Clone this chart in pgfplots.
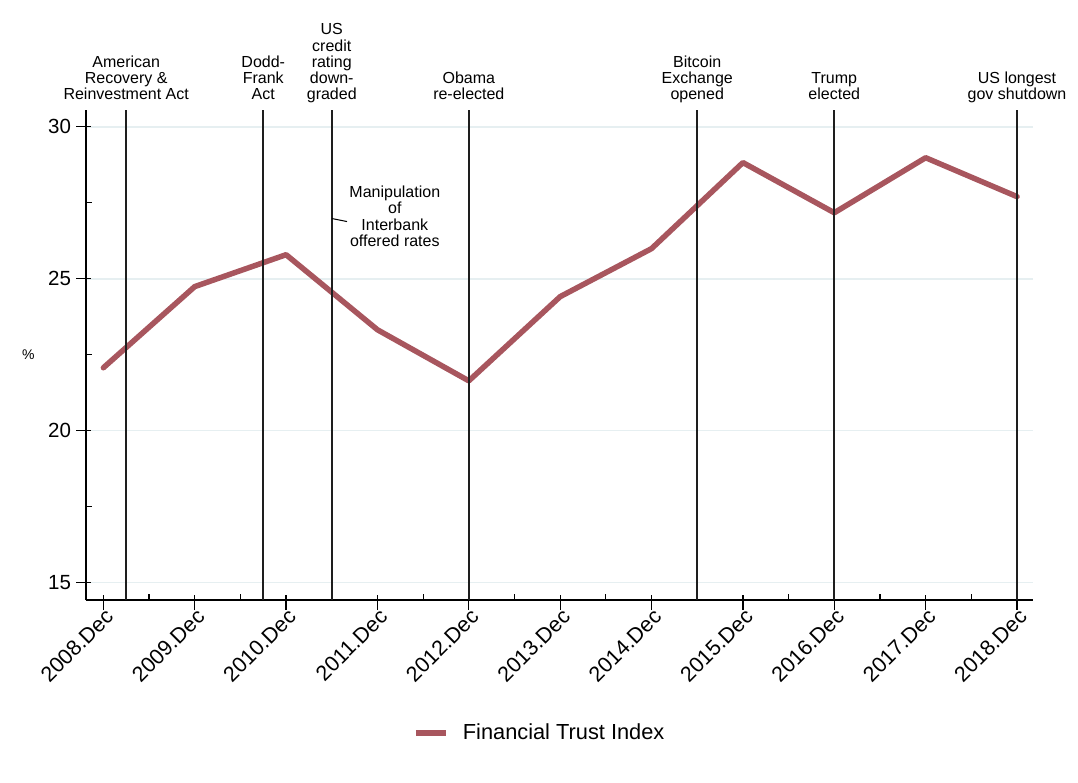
\documentclass[border=0pt]{standalone}
\usepackage{fontspec}
\setmainfont{Liberation Sans}
\usepackage{pgfplots}
\pgfplotsset{compat=1.18}
\definecolor{trust}{RGB}{168,86,94}
\definecolor{gridc}{RGB}{230,239,241}
\definecolor{evc}{RGB}{30,30,30}
\pgfplotstableread{
x y
0 22.07
1 24.74
2 25.79
3 23.32
4 21.64
5 24.41
6 25.99
7 28.82
8 27.17
9 28.98
10 27.70
}\trustdata
\usepackage{pgfplotstable}
\begin{document}
\begin{tikzpicture}
\useasboundingbox (0,0) rectangle (1078pt,782pt);
\begin{axis}[
  at={(86pt,182pt)}, anchor=south west,
  scale only axis, width=947pt, height=490pt,
  xmin=-0.19, xmax=10.175, ymin=14.43, ymax=30.55,
  axis x line=bottom, axis y line=left,
  axis line style={-, line width=1.2pt, black},
  xtick={0,...,10},
  xticklabels={2008.Dec,2009.Dec,2010.Dec,2011.Dec,2012.Dec,2013.Dec,2014.Dec,2015.Dec,2016.Dec,2017.Dec,2018.Dec},
  ytick={15,20,25,30},
  minor x tick num=1, minor y tick num=1,
  ymajorgrids, major grid style={gridc, line width=1.6pt},
  tick align=center, major tick length=15pt, minor tick length=6pt,
  every tick/.style={black, line width=1.2pt},
  every major x tick/.append style={yshift=-2.5pt},
  every major y tick/.append style={xshift=-2.5pt},
  every minor x tick/.append style={yshift=3pt},
  every minor y tick/.append style={xshift=3pt},
  tick label style={font=\fontsize{20.5}{24}\selectfont},
  /pgf/number format/assume math mode=true,
  xticklabel style={rotate=45, anchor=east, font=\fontsize{21.5}{24}\selectfont, xshift=4pt, yshift=-8pt},
  yticklabel style={xshift=-4pt},
  ylabel={\%},
  every axis y label/.style={at={(axis description cs:-0.061,0.5)}, anchor=center, font=\fontsize{14}{16}\selectfont},
  legend style={draw=none, at={(axis description cs:0.479,-0.271)}, anchor=center, font=\fontsize{21.8}{25}\selectfont, column sep=12pt},
  legend image code/.code={\draw[trust, line width=6pt, line cap=butt] (0pt,0pt) -- (30pt,0pt);},
  clip=false,
]
\addplot[trust, line width=5.5pt, line join=round, line cap=round] table[x=x, y=y] {\trustdata};
\addlegendentry{Financial Trust Index}
\foreach \ex in {0.25,1.75,2.5,4,6.5,8,10}{
  \edef\tmp{\noexpand\addplot[evc, line width=1.6pt, forget plot] coordinates {(\ex,14.43) (\ex,30.55)};}
  \tmp
}
\tikzset{evlab/.style={anchor=south, align=center, inner sep=0pt, yshift=5pt, font=\fontsize{16}{16.3}\selectfont}}
\node[evlab] at (axis cs:0.25,30.55) {American\\Recovery \&\\Reinvestment Act\strut};
\node[evlab] at (axis cs:1.75,30.55) {Dodd-\\Frank\\Act\strut};
\node[evlab] at (axis cs:2.5,30.55) {US\\credit\\rating\\down-\\graded\strut};
\node[evlab] at (axis cs:4,30.55) {Obama\\re-elected\strut};
\node[evlab] at (axis cs:6.5,30.55) {Bitcoin\\Exchange\\opened\strut};
\node[evlab] at (axis cs:8,30.55) {Trump\\elected\strut};
\node[evlab] at (axis cs:10,30.55) {US longest\\gov shutdown\strut};
\node[align=center, inner sep=0pt, font=\fontsize{16}{16.3}\selectfont] at (axis cs:3.19,27.05) {Manipulation\\of\\Interbank\\offered rates};
\draw[black, line width=1pt] (axis cs:2.5,26.98) -- (axis cs:2.667,26.88);
\end{axis}
\end{tikzpicture}
\end{document}
